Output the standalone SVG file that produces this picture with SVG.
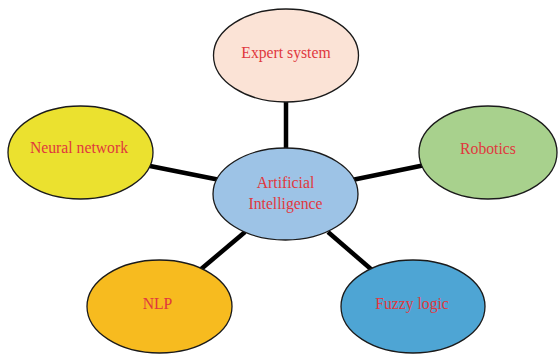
<svg xmlns="http://www.w3.org/2000/svg" width="558" height="354" viewBox="0 0 558 354">
<style>
.n{stroke:#1a1a1a;stroke-width:1.3}
.c line{stroke:#000;stroke-width:4.5}
text{font-family:"Liberation Serif","Times New Roman",serif;font-size:15.7px;fill:#e0383e;text-anchor:middle}
</style>
<rect width="558" height="354" fill="#fff"/>
<g class="c" id="connectors">
<line x1="286" y1="100" x2="286" y2="150"/>
<line x1="145" y1="165" x2="220" y2="180"/>
<line x1="425" y1="165" x2="352" y2="180"/>
<line x1="200" y1="270" x2="245" y2="232"/>
<line x1="328" y1="232" x2="372" y2="270"/>
</g>
<g id="expert"><ellipse class="n" cx="286" cy="55.5" rx="72.5" ry="46.5" fill="#fbe3d6"/><text x="286" y="58">Expert system</text></g>
<g id="neural"><ellipse class="n" cx="80.5" cy="152.5" rx="72.5" ry="46.5" fill="#ebe12f"/><text x="79" y="152.5">Neural network</text></g>
<g id="robotics"><ellipse class="n" cx="488" cy="152.5" rx="69" ry="46.5" fill="#a8d18d"/><text x="488" y="154">Robotics</text></g>
<g id="ai"><ellipse class="n" cx="285.5" cy="194" rx="72.5" ry="46" fill="#9dc3e6"/><text x="285.5" y="188">Artificial</text><text x="285.5" y="208.5">Intelligence</text></g>
<g id="nlp"><ellipse class="n" cx="159.5" cy="306.5" rx="72.5" ry="46.5" fill="#f7bb1f"/><text x="157.5" y="309">NLP</text></g>
<g id="fuzzy"><ellipse class="n" cx="413" cy="306.5" rx="72" ry="46.5" fill="#4ea5d4"/><text x="412" y="309">Fuzzy logic</text></g>
</svg>
